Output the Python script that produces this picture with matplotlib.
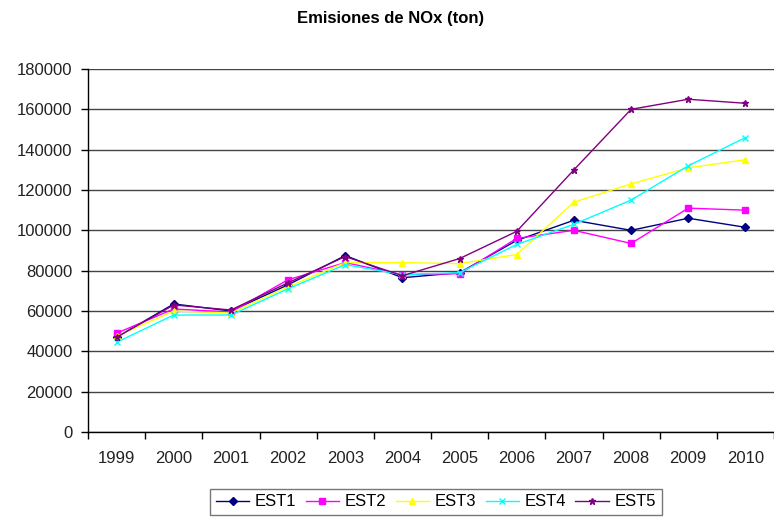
import matplotlib.pyplot as plt
import numpy as np

plt.rcParams['font.family'] = ['Liberation Sans', 'DejaVu Sans']

years = ['1999', '2000', '2001', '2002', '2003', '2004', '2005', '2006', '2007', '2008', '2009', '2010']
est1 = [47000, 63500, 60000, 73000, 87500, 76500, 79000, 95000, 105000, 100000, 106000, 101500]
est2 = [49000, 61000, 59500, 75500, 84000, 78000, 78500, 96000, 100000, 93500, 111000, 110000]
est3 = [47500, 60000, 59000, 72000, 84000, 84000, 83500, 88000, 114000, 123000, 131000, 135000]
est4 = [44500, 58000, 58000, 71000, 83000, 78000, 79000, 93000, 103000, 115000, 132000, 146000]
est5 = [47000, 63000, 60500, 74000, 87000, 77500, 86000, 99500, 130000, 160000, 165000, 163000]

series = [
    ('EST1', est1, '#000080', 'D', 4),
    ('EST2', est2, '#FF00FF', 's', 5),
    ('EST3', est3, '#FFFF00', '^', 5),
    ('EST4', est4, '#00FFFF', 'x', 4),
    ('EST5', est5, '#800080', '*', 5),
]

fig = plt.figure(figsize=(7.74, 5.17), dpi=100)
ax = fig.add_axes([88 / 774, 1 - 432 / 517, 1 - 88 / 774, (432 - 69) / 517])

x = np.arange(len(years))
for name, vals, col, mk, ms in series:
    ax.plot(x, vals, color=col, lw=1.0, marker=mk, markersize=ms,
            markeredgewidth=1.0, label=name, zorder=3)

ax.set_ylim(0, 180000)
ax.set_yticks(np.arange(0, 180001, 20000))
ax.set_xlim(-0.5, 11.45)
ax.set_xticks(x)
ax.set_xticklabels(years)
ax.set_xticks(np.arange(-0.5, 11.6, 1), minor=True)
ax.yaxis.grid(True, color='#444444', lw=1.0)
ax.set_axisbelow(True)

for s in ['top', 'right']:
    ax.spines[s].set_visible(False)
for s in ['left', 'bottom']:
    ax.spines[s].set_color('black')
    ax.spines[s].set_linewidth(1.0)

ax.tick_params(axis='y', length=5, width=1, pad=6, labelsize=12, labelcolor='#222222')
ax.tick_params(axis='x', which='major', length=0, pad=14, labelsize=12, labelcolor='#222222')
ax.tick_params(axis='x', which='minor', length=5, width=1)

fig.text(0.505, 1 - 19 / 517, 'Emisiones de NOx (ton)', ha='center', va='center',
         fontsize=12, fontweight='bold')

leg = fig.legend(loc='center', bbox_to_anchor=(436 / 774, 1 - 502 / 517), ncol=5,
                 frameon=True, fancybox=False, fontsize=12, handlelength=2.0,
                 handletextpad=0.35, columnspacing=0.55, borderpad=0.35)
leg.get_frame().set_edgecolor('#555555')
leg.get_frame().set_linewidth(1.0)

fig.savefig('out.png', dpi=100)
